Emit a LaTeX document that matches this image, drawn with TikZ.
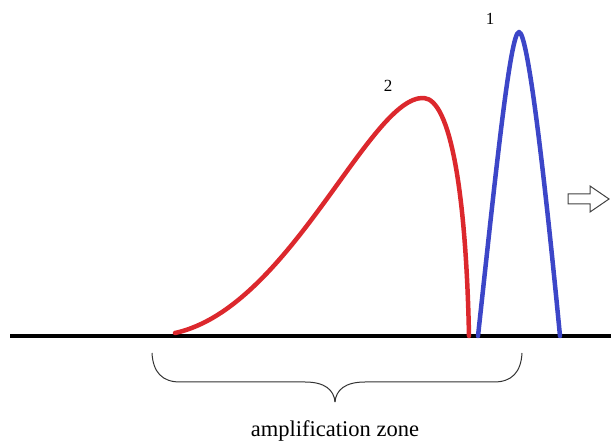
\documentclass[tikz,border=0pt]{standalone}
\usepackage{fontspec}
\setmainfont{Liberation Serif}
\definecolor{pulsered}{RGB}{220,40,45}
\definecolor{pulseblue}{RGB}{60,70,200}
\begin{document}
\begin{tikzpicture}[x=1pt,y=-1pt,
  pulse/.style={line width=4.5pt,line cap=round,line join=round},
  lbl/.style={font=\fontsize{17}{19}\selectfont,inner sep=0pt},
  brace/.style={line width=1pt,draw=black!80}]
\useasboundingbox (0,0) rectangle (611,446);
% baseline
\coordinate (bl) at (10,336);
\coordinate (br) at (611,336);
\draw[line width=4.5pt] (bl) -- (br);
% red pulse
\coordinate (r0) at (175,333);
\coordinate (rp) at (424,98);
\coordinate (r1) at (469,336);
\draw[pulse,draw=pulsered] (r0) .. controls (290,308) and (370,95) .. (rp)
  .. controls (450,100) and (466,190) .. (r1);
% blue pulse
\coordinate (b0) at (478,336);
\coordinate (bp) at (519,32);
\coordinate (b1) at (560,336);
\draw[pulse,draw=pulseblue] (b0) .. controls (495,180) and (510,32) .. (bp)
  .. controls (528,32) and (545,180) .. (b1);
% labels
\node[lbl] (n2) at (388,86) {2};
\node[lbl] (n1) at (490,19) {1};
% hollow arrow
\draw[line width=1pt,draw=black!75] (568,194) -- (590,194) -- (590,186) -- (609,199)
  -- (590,212) -- (590,204) -- (568,204) -- cycle;
% brace
\coordinate (brl) at (152,353);
\coordinate (brr) at (522,353);
\coordinate (tip) at (335,402);
\draw[brace] (brl) .. controls (153,372) and (162,382) .. (180,382) -- (305,382)
  .. controls (325,382) and (334,390) .. (tip);
\draw[brace] (brr) .. controls (521,372) and (512,382) .. (494,382) -- (365,382)
  .. controls (345,382) and (336,390) .. (tip);
% caption
\node[font=\fontsize{22.5}{26}\selectfont,inner sep=0pt] (cap) at (335,431) {amplification zone};
\end{tikzpicture}
\end{document}
